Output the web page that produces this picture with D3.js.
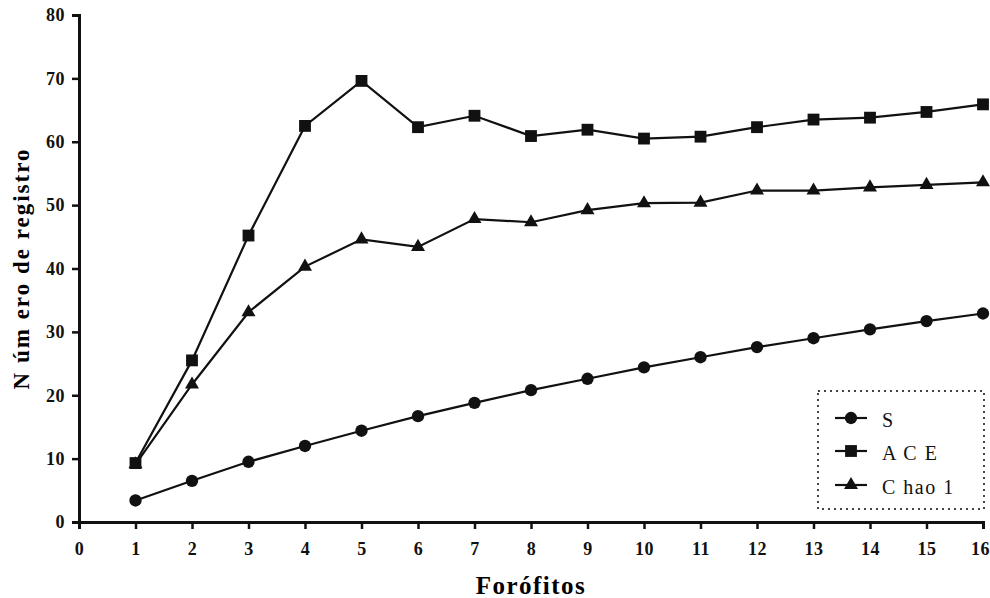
<!DOCTYPE html>
<html>
<head>
<meta charset="utf-8">
<script src="https://cdn.jsdelivr.net/npm/d3@7"></script>
<style>
  body { margin: 0; background: #fff; }
  svg text { font-family: "Liberation Serif", "Times New Roman", Times, "DejaVu Serif", serif; }
</style>
</head>
<body>
<svg id="chart" width="990" height="598"></svg>
<script>
const forofitos = [1, 2, 3, 4, 5, 6, 7, 8, 9, 10, 11, 12, 13, 14, 15, 16];
const sObs  = [3.4, 6.5, 9.5, 12.0, 14.4, 16.7, 18.8, 20.8, 22.6, 24.4, 26.0, 27.6, 29.0, 30.4, 31.7, 32.9];
const ace   = [9.3, 25.5, 45.2, 62.5, 69.6, 62.3, 64.1, 60.9, 61.9, 60.5, 60.8, 62.3, 63.5, 63.8, 64.7, 65.9];
const chao1 = [9.1, 21.7, 33.1, 40.3, 44.6, 43.4, 47.8, 47.3, 49.2, 50.3, 50.4, 52.3, 52.3, 52.8, 53.2, 53.6];
const xTicks = d3.range(0, 17);
const yTicks = d3.range(0, 90, 10);

const series = [
  { name: "S", values: sObs, symbol: d3.symbolCircle, size: 120 },
  { name: "A C E", values: ace, symbol: d3.symbolSquare, size: 140 },
  { name: "C hao 1", values: chao1, symbol: d3.symbolTriangle, size: 85 }
];

const svg = d3.select("#chart");
const x = d3.scaleLinear().domain([0, 16]).range([79, 983]);
const y = d3.scaleLinear().domain([0, 80]).range([522, 15]);

// axes
const xAxis = svg.append("g")
    .attr("transform", "translate(0," + y(0) + ")")
    .call(d3.axisBottom(x).tickValues(xTicks).tickSize(7).tickPadding(13).tickFormat(d3.format("d")));
const yAxis = svg.append("g")
    .attr("transform", "translate(" + x(0) + ",0)")
    .call(d3.axisLeft(y).tickValues(yTicks).tickSize(7).tickPadding(7).tickFormat(d3.format("d")));

[xAxis, yAxis].forEach(function(a) {
  a.attr("font-family", null);
  a.select(".domain").attr("stroke", "#111").attr("stroke-width", 3);
  a.selectAll(".tick line").attr("stroke", "#111").attr("stroke-width", 2.5);
  a.selectAll(".tick text")
    .attr("fill", "#111")
    .style("font-size", "18px")
    .style("font-weight", "bold")
    .style("letter-spacing", "0.5px");
});
// last label sits at the page edge
xAxis.selectAll(".tick text").filter(function(d) { return d === 16; }).attr("dx", -3);

// lines and markers
const line = d3.line()
    .x(function(d, i) { return x(forofitos[i]); })
    .y(function(d) { return y(d); });

series.forEach(function(s) {
  svg.append("path")
      .datum(s.values)
      .attr("d", line)
      .attr("fill", "none")
      .attr("stroke", "#111")
      .attr("stroke-width", 2.2);
  svg.selectAll(null)
      .data(s.values)
      .enter()
      .append("path")
      .attr("transform", function(d, i) { return "translate(" + x(forofitos[i]) + "," + y(d) + ")"; })
      .attr("d", d3.symbol().type(s.symbol).size(s.size))
      .attr("fill", "#111");
});

// axis titles
svg.append("text")
    .attr("x", (x(0) + x(16)) / 2)
    .attr("y", 594)
    .attr("text-anchor", "middle")
    .style("font-size", "25px")
    .style("font-weight", "bold")
    .style("letter-spacing", "1.5px")
    .text("Forófitos");

svg.append("text")
    .attr("transform", "translate(29," + y(40) + ") rotate(-90)")
    .attr("text-anchor", "middle")
    .style("font-size", "23px")
    .style("font-weight", "bold")
    .style("letter-spacing", "2px")
    .text("N úm ero de registro");

// legend
const legend = svg.append("g");
legend.append("rect")
    .attr("x", 818).attr("y", 391)
    .attr("width", 166).attr("height", 118)
    .attr("fill", "#fff")
    .attr("stroke", "#444")
    .attr("stroke-width", 2)
    .attr("stroke-dasharray", "2,4");

const legendY = [418, 451, 485];
series.forEach(function(s, i) {
  const ly = legendY[i];
  legend.append("line")
      .attr("x1", 835).attr("x2", 867)
      .attr("y1", ly).attr("y2", ly)
      .attr("stroke", "#111").attr("stroke-width", 2.2);
  legend.append("path")
      .attr("transform", "translate(851," + ly + ")")
      .attr("d", d3.symbol().type(s.symbol).size(s.size))
      .attr("fill", "#111");
  legend.append("text")
      .attr("x", 882).attr("y", ly + 9)
      .style("font-size", "20px")
      .style("letter-spacing", "1.5px")
      .attr("fill", "#111")
      .text(s.name);
});
</script>
</body>
</html>
